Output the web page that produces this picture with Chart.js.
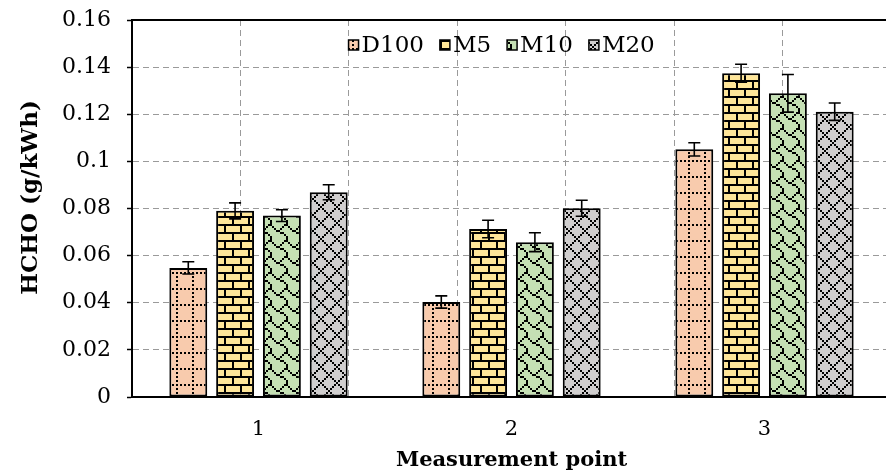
<!DOCTYPE html>
<html><head><meta charset="utf-8">
<style>html,body{margin:0;padding:0;overflow:hidden;background:#fff;width:886px;height:473px}canvas{display:block}</style>
<script src="https://cdn.jsdelivr.net/npm/chart.js@4/dist/chart.umd.min.js"></script>
</head><body>
<canvas id="c" width="900" height="473"></canvas>
<script>
// ---- data ----
const categories = ['1', '2', '3'];
const seriesNames = ['D100', 'M5', 'M10', 'M20'];
const d100 = [0.0548, 0.0403, 0.1051];
const m5   = [0.0790, 0.0713, 0.1374];
const m10  = [0.0770, 0.0657, 0.1289];
const m20  = [0.0869, 0.0801, 0.1211];
const errD100 = [0.0026, 0.0026, 0.0028];
const errM5   = [0.0034, 0.0037, 0.0038];
const errM10  = [0.0025, 0.0040, 0.0080];
const errM20  = [0.0032, 0.0034, 0.0037];
const yTickMin = 0, yTickMax = 0.16, yTickStep = 0.02;
const xTitle = 'Measurement point';
const yTitle = 'HCHO (g/kWh)';

// ---- styles ----
const FONT = '"DejaVu Serif", serif';
Chart.defaults.font.family = FONT;
Chart.defaults.color = '#000';

function makePattern(bits, bg, scale) {
  const c = document.createElement('canvas');
  c.width = 8 * scale; c.height = 8 * scale;
  const g = c.getContext('2d');
  g.fillStyle = bg; g.fillRect(0, 0, c.width, c.height);
  g.fillStyle = '#000';
  for (let r = 0; r < 8; r++) for (let b = 0; b < 8; b++)
    if (bits[r] & (0x80 >> b)) g.fillRect(b * scale, r * scale, scale, scale);
  return document.getElementById('c').getContext('2d').createPattern(c, 'repeat');
}
const dottedGrid = [0xaa, 0x00, 0x80, 0x00, 0x80, 0x00, 0x80, 0x00];
const hBrick     = [0xff, 0x80, 0x80, 0x80, 0xff, 0x08, 0x08, 0x08];
const shingle    = [0x03, 0x84, 0x48, 0x30, 0x0c, 0x02, 0x01, 0x01];
const diamond    = [0x41, 0x22, 0x14, 0x08, 0x14, 0x22, 0x41, 0x80];

const seriesValues = [d100, m5, m10, m20];
const seriesErrors = [errD100, errM5, errM10, errM20];
const seriesFills = [
  makePattern(dottedGrid, '#F8CBAD', 2),
  makePattern(hBrick, '#FFE699', 2),
  makePattern(shingle, '#C5E0B4', 2),
  makePattern(diamond, '#D0CECE', 2)
];

const datasets = seriesNames.map((n, i) => ({
  label: n,
  data: seriesValues[i],
  errors: seriesErrors[i],
  backgroundColor: seriesFills[i],
  borderColor: '#000',
  borderWidth: 2,
  borderSkipped: false
}));

const errorBars = {
  id: 'errorBars',
  afterDatasetsDraw(chart) {
    const ctx = chart.ctx, ys = chart.scales.y;
    ctx.save();
    ctx.strokeStyle = '#000'; ctx.lineWidth = 1.6;
    chart.data.datasets.forEach((ds, i) => {
      const meta = chart.getDatasetMeta(i);
      meta.data.forEach((bar, j) => {
        const v = ds.data[j], e = ds.errors[j];
        const y1 = ys.getPixelForValue(v + e), y2 = ys.getPixelForValue(v - e);
        const x = bar.x, hw = 6;
        ctx.beginPath();
        ctx.moveTo(x, y1); ctx.lineTo(x, y2);
        ctx.moveTo(x - hw, y1); ctx.lineTo(x + hw, y1);
        ctx.moveTo(x - hw, y2); ctx.lineTo(x + hw, y2);
        ctx.stroke();
      });
    });
    ctx.restore();
  }
};

const frame = {
  id: 'frame',
  afterDraw(chart) {
    const ctx = chart.ctx, a = chart.chartArea;
    ctx.save();
    ctx.strokeStyle = '#000'; ctx.lineWidth = 2;
    ctx.beginPath();
    ctx.moveTo(a.right, a.top); ctx.lineTo(a.left, a.top);
    ctx.lineTo(a.left, a.bottom); ctx.lineTo(a.right, a.bottom);
    ctx.stroke();
    ctx.restore();
  }
};

// y-axis title, placed a little above the plot's vertical centre as in the source
const yTitlePlugin = {
  id: 'yTitlePlugin',
  afterDraw(chart) {
    const ctx = chart.ctx, a = chart.chartArea;
    ctx.save();
    ctx.font = 'bold 23px ' + FONT;
    ctx.fillStyle = '#000';
    ctx.textAlign = 'center';
    ctx.textBaseline = 'middle';
    ctx.translate(31, (a.top + a.bottom) / 2 - 11);
    ctx.rotate(-Math.PI / 2);
    ctx.fillText(yTitle, 0, 0);
    ctx.restore();
  }
};

const innerLegend = {
  id: 'innerLegend',
  afterDraw(chart) {
    const ctx = chart.ctx, a = chart.chartArea;
    ctx.save();
    ctx.font = '23px ' + FONT;
    ctx.textBaseline = 'middle';
    const box = 10, gapText = 3, gapItems = 16;
    const items = chart.data.datasets.map(d => ({ label: d.label, fill: d.backgroundColor, w: ctx.measureText(d.label).width }));
    let total = items.reduce((s, it) => s + box + gapText + it.w, 0) + gapItems * (items.length - 1);
    const cx = a.left + a.width * 0.487;
    const cy = a.top + 25;
    let x = cx - total / 2;
    items.forEach(it => {
      ctx.fillStyle = it.fill;
      ctx.fillRect(x, cy - box / 2, box, box);
      ctx.strokeStyle = '#000'; ctx.lineWidth = 1.5;
      ctx.strokeRect(x, cy - box / 2, box, box);
      ctx.fillStyle = '#000';
      ctx.fillText(it.label, x + box + gapText, cy + 1);
      x += box + gapText + it.w + gapItems;
    });
    ctx.restore();
  }
};

new Chart(document.getElementById('c'), {
  type: 'bar',
  data: { labels: categories, datasets },
  plugins: [errorBars, frame, yTitlePlugin, innerLegend],
  options: {
    responsive: false,
    animation: false,
    devicePixelRatio: 1,
    layout: { padding: { left: 0, top: 20, right: 9, bottom: 0 } },
    plugins: { legend: { display: false }, tooltip: { enabled: false } },
    datasets: { bar: { categoryPercentage: 0.74, barPercentage: 0.81 } },
    scales: {
      x: {
        type: 'category',
        offset: true,
        grid: { display: false, drawTicks: false },
        border: { display: true, color: '#000', width: 2 },
        ticks: { padding: 20, color: '#000', font: { size: 21 } },
        title: { display: true, text: xTitle, color: '#000', font: { size: 21, weight: 'bold' }, padding: { top: 0, bottom: 0 } },
        afterFit(s) { s.height = 76; s.paddingLeft = 0; s.paddingRight = 0; }
      },
      xg: {
        type: 'linear', position: 'top', min: 0, max: 6,
        ticks: { display: false, stepSize: 1 },
        grid: { color: '#9a9a9a', lineWidth: 1, drawTicks: false },
        border: { display: false, dash: [6, 4] },
        afterFit(s) { s.height = 0; s.paddingLeft = 0; s.paddingRight = 0; }
      },
      y: {
        min: yTickMin, max: yTickMax,
        ticks: {
          stepSize: yTickStep, padding: 16, color: '#000', font: { size: 22 },
          callback: v => String(parseFloat(Number(v).toFixed(2)))
        },
        grid: { color: '#9a9a9a', lineWidth: 1, tickColor: '#000', tickLength: 5, tickWidth: 1.5, tickBorderDash: [] },
        border: { color: '#000', width: 2, dash: [6, 4] },
        title: { display: false, text: yTitle },
        afterFit(s) { s.width = 132; s.paddingTop = 0; s.paddingBottom = 0; }
      }
    }
  }
});
</script>
</body></html>
